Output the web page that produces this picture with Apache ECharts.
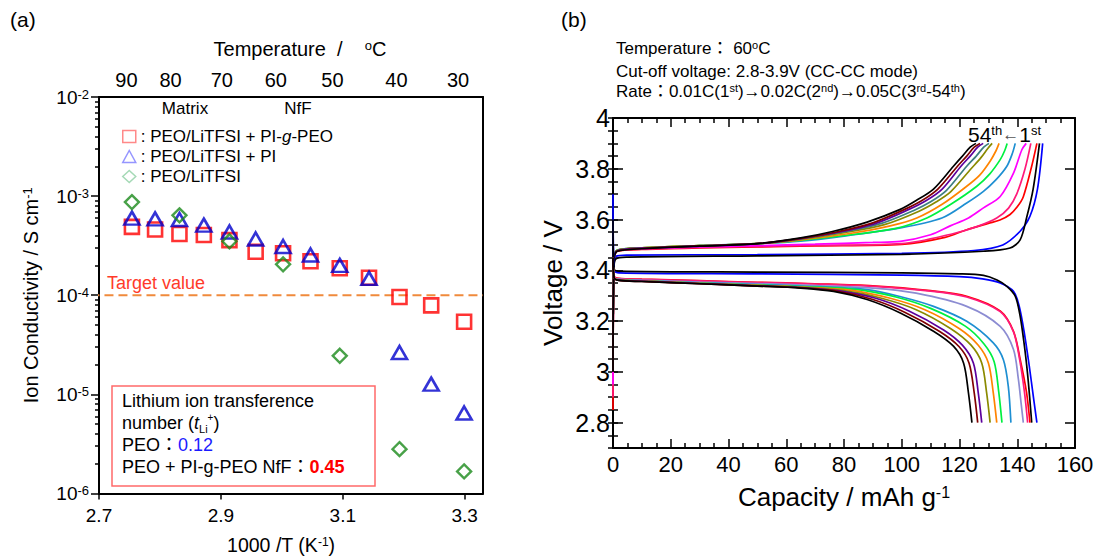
<!DOCTYPE html>
<html>
<head>
<meta charset="utf-8">
<script src="https://cdn.jsdelivr.net/npm/echarts@6/dist/echarts.min.js"></script>
<style>html,body{margin:0;padding:0;background:#fff;}#chart{width:1102px;height:560px;}</style>
</head>
<body>
<div id="chart"></div>
<script>
// ---------- Panel (a) data ----------
const invT = [2.754, 2.792, 2.832, 2.872, 2.914, 2.957, 3.002, 3.047, 3.095, 3.143, 3.193, 3.245, 3.299];
const nffVals = [4.9e-4, 4.6e-4, 4.15e-4, 4.05e-4, 3.6e-4, 2.75e-4, 2.65e-4, 2.2e-4, 1.87e-4, 1.5e-4, 9.6e-5, 7.9e-5, 5.4e-5];
const piVals = [6.0e-4, 5.9e-4, 5.8e-4, 5.1e-4, 4.35e-4, 3.7e-4, 3.1e-4, 2.55e-4, 2.0e-4, 1.48e-4, 2.65e-5, 1.27e-5, 6.5e-6];
const peoInvT = [2.754, 2.832, 2.914, 3.002, 3.095, 3.193, 3.299];
const peoVals = [8.7e-4, 6.4e-4, 3.5e-4, 2.05e-4, 2.45e-5, 2.8e-6, 1.67e-6];
const targetValue = 1e-4;
const targetSpan = [2.686, 3.33];
const xTicksA = [2.7, 2.9, 3.1, 3.3];
const tempPos = [2.745, 2.8175, 2.9015, 2.990, 3.083, 3.188, 3.289];
const tempLabels = ['90', '80', '70', '60', '50', '40', '30'];
const seriesNames = ['PEO/LiTFSI + PI-g-PEO', 'PEO/LiTFSI + PI', 'PEO/LiTFSI'];

// ---------- Panel (b) data : [capacity, voltage] ----------
const chgBlue = [[0,3.1],[0.3,3.42],[1,3.455],[5,3.46],[50,3.462],[100,3.467],[125,3.478],[135,3.50],[141,3.554],[144.4,3.613],[147,3.72],[148.8,3.90]];
const chgBlack1 = [[0,2.9],[0.3,3.40],[1,3.445],[5,3.452],[50,3.457],[100,3.463],[128.3,3.475],[137.5,3.488],[141,3.52],[143.3,3.61],[145.5,3.72],[147.7,3.90]];
const chgRed = [[0,2.85],[0.4,3.45],[1.5,3.475],[10,3.482],[30,3.488],[50,3.492],[70,3.496],[100,3.502],[115,3.53],[122.5,3.56],[130,3.585],[134,3.598],[137.5,3.62],[140,3.65],[142.1,3.69],[145,3.81],[146.8,3.90]];
const chgPink = [[0,2.9],[0.4,3.45],[1.5,3.476],[10,3.483],[30,3.49],[50,3.494],[70,3.498],[100,3.505],[118,3.545],[126,3.572],[132.9,3.606],[137,3.645],[139.8,3.70],[142.7,3.80],[144.7,3.90]];
const chgMagenta = [[0,2.95],[0.4,3.45],[1.5,3.478],[10,3.485],[30,3.492],[50,3.497],[70,3.503],[90,3.51],[99.5,3.514],[110,3.54],[116.8,3.575],[123.1,3.606],[128.3,3.646],[134.1,3.691],[138.7,3.783],[141.6,3.875],[143.1,3.90]];
const chgCyan = [[0,3.0],[0.4,3.45],[1.5,3.48],[10,3.488],[30,3.497],[50,3.505],[65,3.515],[80,3.535],[99.5,3.567],[113.9,3.606],[122.5,3.665],[128.3,3.711],[132.5,3.755],[136.4,3.81],[138.3,3.86],[139.3,3.90]];
const chgGreen = [[0,3.0],[0.4,3.45],[1.5,3.48],[10,3.488],[30,3.497],[50,3.505],[65,3.518],[84,3.542],[98,3.565],[108.7,3.606],[117,3.66],[126,3.731],[130.5,3.78],[134.1,3.836],[135.6,3.87],[136.5,3.90]];
const chgOrange = [[0,3.0],[0.4,3.45],[1.5,3.479],[10,3.488],[30,3.497],[50,3.505],[65,3.52],[82,3.545],[96,3.575],[105.2,3.606],[114,3.66],[122.5,3.731],[127,3.775],[130.6,3.83],[132.6,3.87],[133.7,3.90]];
const chgOlive = [[0,3.0],[0.4,3.45],[1.5,3.478],[10,3.488],[30,3.497],[50,3.505],[65,3.522],[80,3.548],[94,3.58],[106,3.633],[112,3.67],[117,3.71],[124,3.80],[127.5,3.845],[129.8,3.88],[131.3,3.90]];
const chgTeal = [[0,3.0],[0.4,3.45],[1.5,3.478],[10,3.487],[30,3.497],[50,3.505],[65,3.524],[79,3.55],[93,3.585],[104,3.635],[110,3.67],[115.5,3.715],[122.5,3.81],[125.8,3.85],[128.4,3.885],[130.2,3.90]];
const chgPurple = [[0,3.0],[0.4,3.45],[1.5,3.477],[10,3.487],[30,3.496],[50,3.505],[65,3.525],[78,3.55],[91,3.585],[102.5,3.64],[108.5,3.675],[114,3.72],[120.5,3.81],[123.7,3.85],[126.3,3.885],[128.2,3.90]];
const chgDarkRed = [[0,3.0],[0.4,3.45],[1.5,3.476],[10,3.486],[30,3.496],[50,3.505],[65,3.526],[77,3.55],[90,3.587],[101,3.64],[107,3.675],[112.5,3.72],[119.3,3.81],[122.5,3.85],[125.1,3.885],[127.1,3.90]];
const chg54 = [[0,3.0],[0.4,3.45],[1.5,3.475],[10,3.485],[30,3.495],[50,3.505],[65,3.528],[76,3.553],[88,3.59],[99.5,3.64],[105,3.675],[111,3.72],[117.9,3.81],[121,3.85],[123.7,3.885],[125.7,3.90]];

const disBlue = [[0,3.7],[0.4,3.40],[2,3.39],[50,3.386],[100,3.381],[120,3.375],[128,3.366],[134.1,3.35],[138.7,3.317],[140.7,3.258],[142.5,3.15],[144.2,3.02],[145.6,2.90],[146.8,2.80]];
const disBlack1 = [[0,3.6],[0.4,3.405],[2,3.397],[50,3.393],[100,3.39],[120,3.386],[128.3,3.38],[133,3.362],[136.4,3.337],[139.3,3.298],[141,3.22],[142.5,3.10],[143.5,3.00],[144.3,2.90],[145.0,2.80]];
const disRed = [[0,3.45],[0.4,3.376],[2,3.368],[10,3.365],[30,3.359],[50,3.353],[70,3.347],[90,3.339],[110,3.32],[122.5,3.298],[134.1,3.24],[138.7,3.16],[141,3.05],[143.2,2.92],[144.4,2.80]];
const disPink = [[0,3.45],[0.4,3.375],[2,3.367],[10,3.364],[30,3.358],[50,3.352],[70,3.346],[90,3.337],[110,3.318],[122.5,3.295],[134.1,3.237],[138.7,3.157],[140.8,3.05],[142.5,2.92],[143.6,2.80]];
const disLavender = [[0,3.45],[0.4,3.372],[2,3.365],[10,3.361],[30,3.354],[50,3.348],[70,3.34],[90,3.33],[105,3.31],[122.5,3.258],[134.1,3.179],[138.7,3.088],[140.4,2.97],[141.3,2.88],[142.1,2.80]];
const disCyan = [[0,3.45],[0.4,3.37],[2,3.363],[10,3.359],[30,3.351],[50,3.344],[65,3.338],[87.9,3.324],[100,3.295],[111,3.258],[122.5,3.199],[131.7,3.114],[135.2,3.048],[136.9,2.943],[137.8,2.80]];
const disGreen = [[0,3.45],[0.4,3.37],[2,3.362],[10,3.358],[30,3.35],[50,3.342],[65,3.336],[84,3.325],[98,3.295],[110,3.25],[122,3.18],[128.5,3.11],[132,3.04],[133.6,2.92],[134.7,2.80]];
const disOrange = [[0,3.45],[0.4,3.37],[2,3.362],[10,3.358],[30,3.349],[50,3.341],[65,3.334],[82,3.322],[96,3.29],[108,3.245],[120,3.17],[126.5,3.105],[130,3.035],[131.7,2.917],[132.9,2.80]];
const disOlive = [[0,3.45],[0.4,3.37],[2,3.361],[10,3.357],[30,3.348],[50,3.34],[65,3.333],[80,3.32],[93,3.29],[105,3.245],[117,3.17],[124,3.105],[127.7,3.035],[129.4,2.917],[130.6,2.80]];
const disPurple = [[0,3.45],[0.4,3.37],[2,3.361],[10,3.357],[30,3.348],[50,3.339],[65,3.332],[78,3.32],[91,3.29],[102.5,3.24],[114.5,3.165],[121,3.105],[124.8,3.035],[126.5,2.917],[127.7,2.80]];
const disDarkRed = [[0,3.45],[0.4,3.37],[2,3.36],[10,3.356],[30,3.347],[50,3.338],[65,3.331],[77,3.319],[90,3.285],[101,3.235],[113,3.16],[119.8,3.10],[123.3,3.035],[125.1,2.917],[126.3,2.80]];
const dis54 = [[0,3.45],[0.4,3.37],[2,3.36],[10,3.356],[30,3.347],[50,3.338],[65,3.33],[76.4,3.317],[88,3.285],[99.5,3.232],[111,3.16],[117.9,3.101],[121.4,3.035],[123.1,2.917],[124.3,2.80]];

const voltTicks = [2.8, 3.0, 3.2, 3.4, 3.6, 3.8, 4.0];

// ---------- build ----------
const FONT = "'Liberation Sans', Arial, 'Noto Sans CJK JP', sans-serif";
const BLACK = '#000';
const minorLogTicks = [];
[1e-6, 1e-5, 1e-4, 1e-3].forEach(d => [2,3,4,5,6,7,8,9].forEach(m => minorLogTicks.push(+(d*m).toPrecision(3))));

const curveList = [
  [chgBlue,'#0000ff'],[chgBlack1,'#000000'],[chgRed,'#ff0000'],[chgPink,'#ff1a7a'],[chgMagenta,'#ff00ff'],
  [chgCyan,'#1e8fd2'],[chgGreen,'#00f040'],[chgOrange,'#ff8400'],[chgOlive,'#8a8a00'],[chgTeal,'#3d7f7f'],
  [chgPurple,'#5c009c'],[chgDarkRed,'#800000'],[chg54,'#000000'],
  [disBlue,'#0000ff'],[disBlack1,'#000000'],[disRed,'#ff0000'],[disPink,'#ff1a7a'],[disLavender,'#8c8cd2'],
  [disCyan,'#1e8fd2'],[disGreen,'#00f040'],[disOrange,'#ff8400'],[disOlive,'#8a8a00'],
  [disPurple,'#5c009c'],[disDarkRed,'#800000'],[dis54,'#000000']
];

const axisLineStyle = {show:true, onZero:false, lineStyle:{color:BLACK, width:2}};
const tickStyle = {color:BLACK, width:1.5};
const supRich = (fs) => ({fontSize:fs, verticalAlign:'top', fontFamily:FONT, color:BLACK});

const series = [
  {
    name:'target', type:'line', xAxisIndex:0, yAxisIndex:0,
    data: targetSpan.map(x => [x, targetValue]),
    showSymbol:false, symbol:'none', clip:false, silent:true,
    lineStyle:{color:'#f08a3c', type:[9,5], width:2}, z:2
  },
  {
    name: seriesNames[0], type:'scatter', xAxisIndex:0, yAxisIndex:0,
    data: invT.map((x,i)=>[x, nffVals[i]]),
    symbol:'rect', symbolSize:14,
    itemStyle:{color:'rgba(0,0,0,0)', borderColor:'#ff0000', borderWidth:2.6},
    z:3
  },
  {
    name: seriesNames[1], type:'scatter', xAxisIndex:0, yAxisIndex:0,
    data: invT.map((x,i)=>[x, piVals[i]]),
    symbol:'triangle', symbolSize:[15,13],
    itemStyle:{color:'rgba(0,0,0,0)', borderColor:'#0000cc', borderWidth:2.6},
    z:4
  },
  {
    name: seriesNames[2], type:'scatter', xAxisIndex:0, yAxisIndex:0,
    data: peoInvT.map((x,i)=>[x, peoVals[i]]),
    symbol:'diamond', symbolSize:[14,14],
    itemStyle:{color:'rgba(0,0,0,0)', borderColor:'#1a8a1a', borderWidth:2.4},
    z:5
  }
];
curveList.forEach((c) => {
  series.push({
    type:'line', xAxisIndex:2, yAxisIndex:3, data:c[0],
    showSymbol:false, symbol:'none', smooth:0.3,
    lineStyle:{color:c[1], width:1.7}, z:2, silent:true
  });
});

const option = {
  animation:false,
  backgroundColor:'#fff',
  textStyle:{fontFamily:FONT, color:BLACK},
  grid:[
    {left:99, top:97, width:384, height:397},
    {left:613, top:118, width:462, height:330}
  ],
  xAxis:[
    {
      type:'value', gridIndex:0, position:'bottom', min:2.7, max:3.33,
      axisLine:axisLineStyle,
      axisTick:{show:true, length:6, lineStyle:tickStyle, customValues:xTicksA},
      axisLabel:{customValues:xTicksA, fontSize:19, margin:12, color:BLACK, fontFamily:FONT, formatter:v=>v.toFixed(1)},
      splitLine:{show:false},
      name:'1000 /T (K{s|-1})', nameLocation:'middle', nameGap:42,
      nameTextStyle:{fontSize:19.5, color:BLACK, fontFamily:FONT, padding:[0,20,0,0], rich:{s:supRich(12)}}
    },
    {
      type:'value', gridIndex:0, position:'top', min:2.7, max:3.33,
      axisLine:axisLineStyle,
      axisTick:{show:false},
      axisLabel:{customValues:tempPos, fontSize:20, margin:7, color:BLACK, fontFamily:FONT,
        formatter:v=>{const i=tempPos.findIndex(p=>Math.abs(p-v)<1e-6); return i>=0?tempLabels[i]:'';}},
      splitLine:{show:false},
      name:'Temperature  /    {s|o}C', nameLocation:'middle', nameGap:38,
      nameTextStyle:{fontSize:20, color:BLACK, fontFamily:FONT, padding:[0,0,0,18], rich:{s:supRich(13)}}
    },
    {
      type:'value', gridIndex:1, position:'bottom', min:0, max:160, interval:20,
      axisLine:axisLineStyle,
      axisTick:{show:true, inside:true, length:9, lineStyle:tickStyle},
      minorTick:{show:true, splitNumber:4, length:5, lineStyle:tickStyle},
      axisLabel:{fontSize:22, margin:5, color:BLACK, fontFamily:FONT},
      splitLine:{show:false},
      name:'Capacity / mAh g{s|-1}', nameLocation:'middle', nameGap:36,
      nameTextStyle:{fontSize:26, color:BLACK, fontFamily:FONT, rich:{s:supRich(16)}}
    },
    {
      type:'value', gridIndex:1, position:'top', min:0, max:160, interval:20,
      axisLine:axisLineStyle,
      axisTick:{show:true, inside:true, length:9, lineStyle:tickStyle},
      minorTick:{show:true, splitNumber:4, length:5, lineStyle:tickStyle},
      axisLabel:{show:false}, splitLine:{show:false}
    }
  ],
  yAxis:[
    {
      type:'log', logBase:10, gridIndex:0, position:'left', min:1e-6, max:1e-2,
      axisLine:axisLineStyle,
      axisTick:{show:true, length:8, lineStyle:tickStyle},
      axisLabel:{margin:10, color:BLACK, fontFamily:FONT,
        formatter:v=>'{n|10}{e|'+Math.round(Math.log10(v))+'}',
        rich:{n:{fontSize:19, fontFamily:FONT, color:BLACK}, e:supRich(13)}},
      splitLine:{show:false}, minorTick:{show:false},
      name:'Ion Conductivity / S cm{s|-1}', nameLocation:'middle', nameGap:58, nameRotate:90,
      nameTextStyle:{fontSize:20, color:BLACK, fontFamily:FONT, rich:{s:supRich(13)}}
    },
    {
      type:'log', logBase:10, gridIndex:0, position:'left', min:1e-6, max:1e-2,
      axisLine:{show:false},
      axisTick:{show:true, length:4, lineStyle:tickStyle, customValues:minorLogTicks},
      axisLabel:{show:false}, splitLine:{show:false}
    },
    {
      type:'log', logBase:10, gridIndex:0, position:'right', min:1e-6, max:1e-2,
      axisLine:axisLineStyle, axisTick:{show:false}, axisLabel:{show:false}, splitLine:{show:false}
    },
    {
      type:'value', gridIndex:1, position:'left', min:2.7, max:4.0,
      axisLine:axisLineStyle,
      axisTick:{show:true, inside:true, length:10, lineStyle:tickStyle, customValues:voltTicks},
      axisLabel:{customValues:voltTicks, fontSize:25, margin:3, color:BLACK, fontFamily:FONT},
      splitLine:{show:false},
      name:'Voltage / V', nameLocation:'middle', nameGap:47, nameRotate:90,
      nameTextStyle:{fontSize:26, color:BLACK, fontFamily:FONT}
    },
    {
      type:'value', gridIndex:1, position:'left', min:2.7, max:4.0, interval:0.05,
      axisLine:{show:false},
      axisTick:{show:true, inside:true, length:5, lineStyle:tickStyle},
      axisLabel:{show:false}, splitLine:{show:false}
    },
    {
      type:'value', gridIndex:1, position:'right', min:2.7, max:4.0,
      axisLine:axisLineStyle,
      axisTick:{show:true, inside:true, length:10, lineStyle:tickStyle, customValues:voltTicks},
      axisLabel:{show:false}, splitLine:{show:false}
    },
    {
      type:'value', gridIndex:1, position:'right', min:2.7, max:4.0, interval:0.05,
      axisLine:{show:false},
      axisTick:{show:true, inside:true, length:5, lineStyle:tickStyle},
      axisLabel:{show:false}, splitLine:{show:false}
    }
  ],
  legend:{
    left:117, top:123, orient:'vertical', itemWidth:13, itemHeight:12, itemGap:3,
    selectedMode:false,
    data:[
      {name:seriesNames[0], icon:'rect', itemStyle:{color:'rgba(0,0,0,0)', borderColor:'#ff6b6b', borderWidth:1.5}},
      {name:seriesNames[1], icon:'triangle', itemStyle:{color:'rgba(0,0,0,0)', borderColor:'#7a7aff', borderWidth:1.5}},
      {name:seriesNames[2], icon:'diamond', itemStyle:{color:'rgba(0,0,0,0)', borderColor:'#8fd0a4', borderWidth:1.5}}
    ],
    textStyle:{fontSize:17, color:BLACK, fontFamily:FONT, rich:{i:{fontStyle:'italic', fontSize:17, fontFamily:FONT, color:BLACK}}},
    formatter:n=> ': ' + (n===seriesNames[0] ? 'PEO/LiTFSI + PI-{i|g}-PEO' : n)
  },
  graphic:[
    {type:'text', style:{x:10, y:19, text:'(a)', fontSize:21, fontFamily:FONT, fill:BLACK, verticalAlign:'middle'}},
    {type:'text', style:{x:561, y:19, text:'(b)', fontSize:21, fontFamily:FONT, fill:BLACK, verticalAlign:'middle'}},
    {type:'text', style:{x:185, y:108, text:'Matrix', fontSize:17, fontFamily:FONT, fill:BLACK, align:'center', verticalAlign:'middle'}},
    {type:'text', style:{x:298, y:108, text:'NfF', fontSize:17, fontFamily:FONT, fill:BLACK, align:'center', verticalAlign:'middle'}},
    {type:'text', style:{x:107, y:283, text:'Target value', fontSize:18, fontFamily:FONT, fill:'#ff3a2a', verticalAlign:'middle'}},
    {type:'rect', shape:{x:112, y:386, width:263, height:100}, style:{fill:'#fff', stroke:'#ff6a6a', lineWidth:1.5}, z:10},
    {type:'text', z:11, style:{x:122, y:390, lineHeight:22, fontSize:18, fontFamily:FONT, fill:BLACK, verticalAlign:'top',
      text:'Lithium ion transference\nnumber ({it|t}{sb|Li}{sp|+})\nPEO\uff1a{bl|0.12}\nPEO + PI-g-PEO NfF\uff1a{rd|0.45}',
      rich:{
        it:{fontStyle:'italic', fontSize:18, fontFamily:FONT, fill:BLACK, lineHeight:22},
        sb:{fontSize:11, fontFamily:FONT, fill:BLACK, verticalAlign:'bottom', lineHeight:22},
        sp:{fontSize:10, fontFamily:FONT, fill:BLACK, verticalAlign:'top', lineHeight:22},
        bl:{fontSize:18, fontFamily:FONT, fill:'#1a1aff', lineHeight:22},
        rd:{fontSize:18, fontFamily:FONT, fill:'#ff0000', fontWeight:'bold', lineHeight:22}
      }}},
    {type:'text', style:{x:616, y:48, text:'Temperature\uff1a 60{sp|o}C', fontSize:17, fontFamily:FONT, fill:BLACK, verticalAlign:'middle',
      rich:{sp:{fontSize:11, fontFamily:FONT, fill:BLACK, verticalAlign:'top'}}}},
    {type:'text', style:{x:616, y:71, text:'Cut-off voltage: 2.8-3.9V (CC-CC mode)', fontSize:17, fontFamily:FONT, fill:BLACK, verticalAlign:'middle'}},
    {type:'text', style:{x:616, y:91, text:'Rate\uff1a0.01C(1{sp|st})\u21920.02C(2{sp|nd})\u21920.05C(3{sp|rd}-54{sp|th})', fontSize:17, fontFamily:FONT, fill:BLACK, verticalAlign:'middle',
      rich:{sp:{fontSize:11, fontFamily:FONT, fill:BLACK, verticalAlign:'top'}}}},
    {type:'text', z:20, style:{x:968, y:134, text:'54{sp|th}{ar|\u2190}1{sp|st}', fontSize:21, fontFamily:FONT, fill:BLACK, verticalAlign:'middle',
      rich:{sp:{fontSize:13, fontFamily:FONT, fill:BLACK, verticalAlign:'top'}, ar:{fontSize:17, fontFamily:FONT, fill:'#555'}}}}
  ],
  series:series
};

const chart = echarts.init(document.getElementById('chart'), null, {renderer:'svg', width:1102, height:560});
chart.setOption(option);
</script>
</body>
</html>
